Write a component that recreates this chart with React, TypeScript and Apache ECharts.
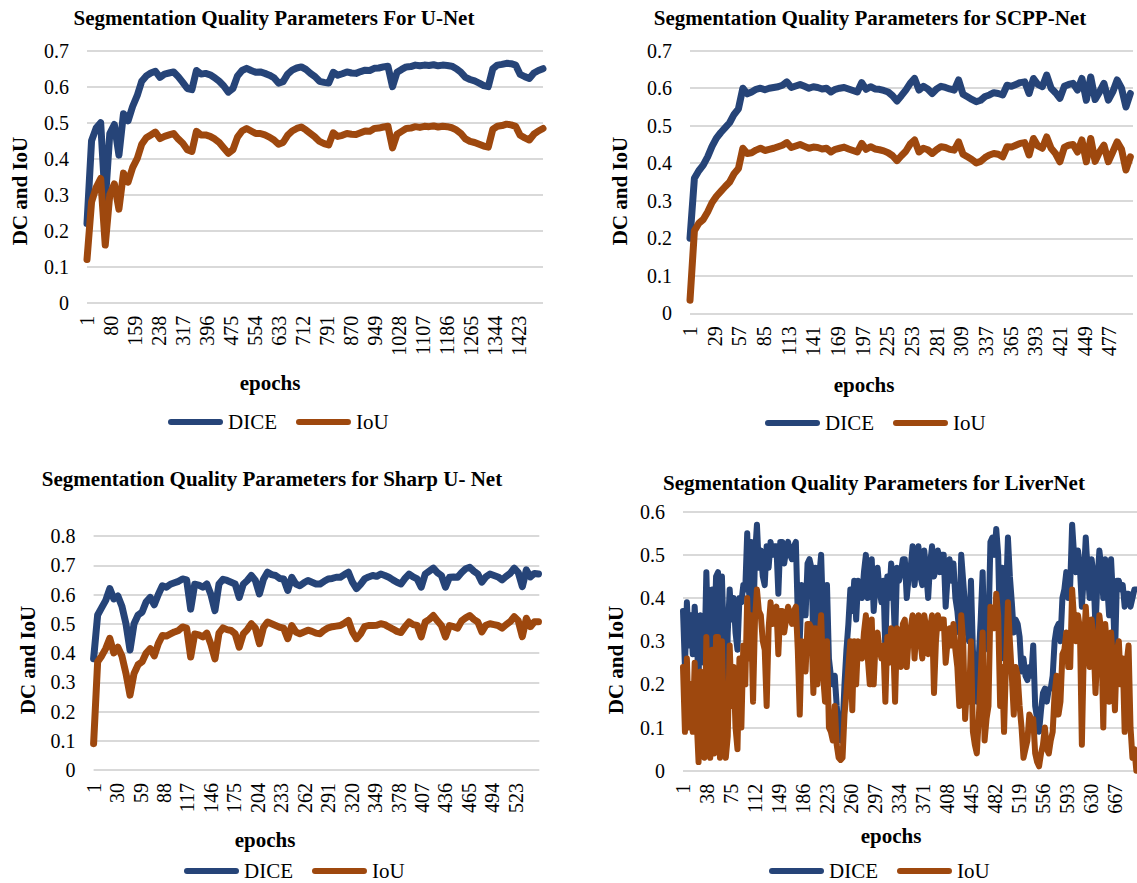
import React, { useEffect, useRef } from 'react';
import * as echarts from 'echarts';

const FONT = "'Liberation Serif', 'Times New Roman', Times, serif";
const DICE_COLOR = '#264478';
const IOU_COLOR = '#9E480E';

const SERIES_NAMES = ['DICE', 'IoU'];
const X_AXIS_NAME = 'epochs';
const Y_AXIS_NAME = 'DC and IoU';

// ---------- U-Net (sampled every 15 epochs) ----------
const UNET_TITLE = 'Segmentation Quality Parameters For U-Net';
const UNET_STEP = 15;
const UNET_DICE = [
  0.22, 0.45, 0.485, 0.50, 0.28, 0.47, 0.495, 0.41, 0.525, 0.505,
  0.545, 0.575, 0.615, 0.63, 0.638, 0.643, 0.626, 0.635, 0.638, 0.641,
  0.628, 0.612, 0.595, 0.592, 0.645, 0.635, 0.637, 0.633, 0.625, 0.615,
  0.602, 0.585, 0.595, 0.63, 0.645, 0.651, 0.645, 0.64, 0.641, 0.637,
  0.632, 0.625, 0.61, 0.614, 0.635, 0.646, 0.652, 0.655, 0.648, 0.637,
  0.628, 0.615, 0.612, 0.61, 0.64, 0.632, 0.636, 0.641, 0.638, 0.637,
  0.642, 0.646, 0.645, 0.651, 0.652, 0.655, 0.657, 0.60, 0.64, 0.648,
  0.655, 0.656, 0.66, 0.658, 0.66, 0.659, 0.661, 0.658, 0.66, 0.659,
  0.657, 0.65, 0.64, 0.626, 0.62, 0.616, 0.61, 0.603, 0.60, 0.65,
  0.66, 0.662, 0.665, 0.664, 0.66, 0.634, 0.628, 0.623, 0.638, 0.645,
  0.65,
];
const UNET_IOU = [
  0.12, 0.28, 0.32, 0.345, 0.16, 0.30, 0.33, 0.26, 0.36, 0.335,
  0.375, 0.40, 0.44, 0.458, 0.466, 0.474, 0.456, 0.462, 0.466, 0.47,
  0.455, 0.443, 0.425, 0.42, 0.476, 0.466, 0.466, 0.462, 0.455, 0.445,
  0.43, 0.415, 0.425, 0.46, 0.477, 0.484, 0.477, 0.47, 0.47, 0.466,
  0.46, 0.452, 0.44, 0.445, 0.465, 0.477, 0.484, 0.488, 0.48, 0.47,
  0.46, 0.448, 0.442, 0.438, 0.472, 0.462, 0.465, 0.47, 0.468, 0.467,
  0.472, 0.477, 0.476, 0.484, 0.485, 0.488, 0.49, 0.43, 0.468, 0.476,
  0.484, 0.485, 0.489, 0.487, 0.49, 0.489, 0.491, 0.488, 0.49, 0.489,
  0.486, 0.48, 0.47, 0.455, 0.448, 0.445, 0.44, 0.435, 0.432, 0.482,
  0.49, 0.492, 0.496, 0.494, 0.49, 0.465, 0.458, 0.452, 0.468, 0.477,
  0.484,
];

// ---------- SCPP-Net (sampled every 5 epochs) ----------
const SCPP_TITLE = 'Segmentation Quality Parameters for SCPP-Net';
const SCPP_STEP = 5;
const SCPP_DICE = [
  0.20, 0.36, 0.38, 0.395, 0.417, 0.445, 0.467, 0.482, 0.495, 0.508,
  0.53, 0.545, 0.60, 0.585, 0.59, 0.597, 0.60, 0.596, 0.60, 0.602,
  0.604, 0.608, 0.617, 0.602, 0.606, 0.61, 0.605, 0.60, 0.604, 0.602,
  0.598, 0.60, 0.59, 0.597, 0.60, 0.602, 0.598, 0.594, 0.59, 0.615,
  0.597, 0.604, 0.598, 0.597, 0.594, 0.59, 0.58, 0.566, 0.58, 0.595,
  0.613, 0.626, 0.595, 0.605, 0.598, 0.586, 0.598, 0.605, 0.602, 0.598,
  0.595, 0.622, 0.584, 0.577, 0.57, 0.564, 0.568, 0.578, 0.582, 0.588,
  0.586, 0.582, 0.608, 0.605, 0.61, 0.615, 0.617, 0.586, 0.626, 0.61,
  0.604, 0.635, 0.60, 0.588, 0.573, 0.605, 0.61, 0.613, 0.595, 0.626,
  0.568, 0.63, 0.57, 0.59, 0.613, 0.568, 0.59, 0.622, 0.60, 0.55,
  0.586,
];
const SCPP_IOU = [
  0.035, 0.22, 0.24, 0.25, 0.27, 0.295, 0.312, 0.325, 0.338, 0.35,
  0.372, 0.386, 0.44, 0.426, 0.428, 0.435, 0.44, 0.434, 0.437, 0.44,
  0.444, 0.448, 0.455, 0.442, 0.446, 0.45, 0.445, 0.44, 0.443, 0.442,
  0.438, 0.44, 0.43, 0.437, 0.44, 0.443, 0.438, 0.434, 0.43, 0.453,
  0.437, 0.444, 0.438, 0.436, 0.433, 0.428, 0.42, 0.407, 0.42, 0.432,
  0.451, 0.462, 0.43, 0.44, 0.436, 0.426, 0.436, 0.444, 0.442, 0.437,
  0.435, 0.457, 0.424, 0.417, 0.41, 0.401, 0.405, 0.415, 0.422, 0.426,
  0.424, 0.417, 0.444, 0.443, 0.448, 0.453, 0.455, 0.422, 0.466, 0.446,
  0.44, 0.47, 0.44, 0.426, 0.404, 0.442, 0.448, 0.45, 0.43, 0.462,
  0.404, 0.466, 0.405, 0.43, 0.448, 0.404, 0.43, 0.457, 0.437, 0.382,
  0.417,
];

// ---------- Sharp U-Net (sampled every 5 epochs) ----------
const SHARP_TITLE = 'Segmentation Quality Parameters for Sharp U- Net';
const SHARP_STEP = 5;
const SHARP_DICE = [
  0.38, 0.53, 0.555, 0.58, 0.62, 0.585, 0.595, 0.56, 0.50, 0.41,
  0.50, 0.53, 0.54, 0.575, 0.59, 0.565, 0.60, 0.63, 0.625, 0.635,
  0.64, 0.645, 0.653, 0.65, 0.55, 0.635, 0.632, 0.625, 0.636, 0.60,
  0.545, 0.636, 0.652, 0.648, 0.642, 0.636, 0.59, 0.635, 0.648, 0.665,
  0.648, 0.602, 0.652, 0.676, 0.668, 0.665, 0.655, 0.653, 0.614, 0.659,
  0.636, 0.63, 0.64, 0.648, 0.642, 0.636, 0.636, 0.645, 0.653, 0.655,
  0.659, 0.659, 0.668, 0.676, 0.642, 0.62, 0.635, 0.653, 0.66, 0.665,
  0.662, 0.67, 0.665, 0.659, 0.65, 0.642, 0.636, 0.655, 0.67, 0.66,
  0.653, 0.625, 0.67, 0.68, 0.69, 0.675, 0.665, 0.625, 0.659, 0.66,
  0.659, 0.675, 0.688, 0.693, 0.68, 0.67, 0.642, 0.66, 0.67, 0.665,
  0.66, 0.65, 0.662, 0.672, 0.69, 0.675, 0.627, 0.684, 0.66, 0.672,
  0.67,
];
const SHARP_IOU = [
  0.09, 0.37, 0.39, 0.415, 0.45, 0.40, 0.42, 0.39, 0.33, 0.256,
  0.33, 0.36, 0.37, 0.40, 0.415, 0.39, 0.432, 0.46, 0.458, 0.465,
  0.472, 0.477, 0.489, 0.485, 0.386, 0.465, 0.462, 0.455, 0.468, 0.43,
  0.38, 0.468, 0.486, 0.48, 0.477, 0.466, 0.42, 0.465, 0.48, 0.50,
  0.485, 0.432, 0.487, 0.506, 0.50, 0.494, 0.488, 0.485, 0.449, 0.494,
  0.472, 0.466, 0.472, 0.478, 0.474, 0.468, 0.466, 0.478, 0.486, 0.49,
  0.492, 0.494, 0.502, 0.511, 0.472, 0.449, 0.465, 0.49, 0.494, 0.494,
  0.495, 0.50, 0.497, 0.489, 0.482, 0.474, 0.47, 0.49, 0.506, 0.497,
  0.494, 0.455, 0.506, 0.515, 0.528, 0.51, 0.494, 0.455, 0.494, 0.49,
  0.485, 0.51, 0.52, 0.528, 0.515, 0.506, 0.472, 0.495, 0.50, 0.497,
  0.494, 0.485, 0.497, 0.507, 0.524, 0.51, 0.456, 0.519, 0.49, 0.507,
  0.507,
];

// ---------- LiverNet (sampled every 3 epochs) ----------
const LIVER_TITLE = 'Segmentation Quality Parameters for LiverNet';
const LIVER_STEP = 3;
const LIVER_DICE = [
  0.37, 0.24, 0.39, 0.29, 0.36, 0.27, 0.38, 0.30, 0.22, 0.36,
  0.33, 0.25, 0.46, 0.30, 0.20, 0.42, 0.30, 0.45, 0.46, 0.20,
  0.45, 0.30, 0.13, 0.32, 0.42, 0.35, 0.40, 0.32, 0.28, 0.40,
  0.39, 0.43, 0.42, 0.55, 0.41, 0.53, 0.30, 0.50, 0.57, 0.47,
  0.51, 0.45, 0.43, 0.52, 0.47, 0.53, 0.50, 0.52, 0.52, 0.41,
  0.53, 0.53, 0.48, 0.51, 0.53, 0.50, 0.49, 0.52, 0.53, 0.36,
  0.30, 0.43, 0.40, 0.36, 0.48, 0.49, 0.47, 0.30, 0.47, 0.30,
  0.45, 0.50, 0.35, 0.30, 0.43, 0.26, 0.22, 0.20, 0.22, 0.15,
  0.10, 0.07, 0.10, 0.20, 0.28, 0.34, 0.42, 0.37, 0.44, 0.35,
  0.44, 0.43, 0.40, 0.46, 0.50, 0.40, 0.45, 0.49, 0.37, 0.43,
  0.47, 0.42, 0.39, 0.44, 0.28, 0.45, 0.40, 0.48, 0.42, 0.30,
  0.47, 0.44, 0.46, 0.49, 0.49, 0.40, 0.45, 0.47, 0.52, 0.43,
  0.48, 0.52, 0.45, 0.43, 0.51, 0.46, 0.40, 0.48, 0.52, 0.45,
  0.47, 0.51, 0.46, 0.50, 0.50, 0.38, 0.45, 0.49, 0.44, 0.48,
  0.40, 0.37, 0.32, 0.50, 0.44, 0.38, 0.33, 0.30, 0.44, 0.28,
  0.20, 0.16, 0.26, 0.35, 0.46, 0.28, 0.30, 0.33, 0.53, 0.54,
  0.50, 0.56, 0.50, 0.30, 0.47, 0.26, 0.40, 0.54, 0.45, 0.39,
  0.32, 0.35, 0.34, 0.31, 0.23, 0.26, 0.22, 0.21, 0.24, 0.22,
  0.29, 0.15, 0.12, 0.09, 0.14, 0.18, 0.19, 0.16, 0.19, 0.19,
  0.22, 0.30, 0.33, 0.34, 0.30, 0.40, 0.42, 0.46, 0.40, 0.43,
  0.57, 0.50, 0.46, 0.51, 0.47, 0.38, 0.45, 0.54, 0.46, 0.40,
  0.49, 0.45, 0.33, 0.44, 0.51, 0.47, 0.40, 0.49, 0.43, 0.36,
  0.49, 0.40, 0.26, 0.44, 0.44, 0.42, 0.43, 0.38, 0.41, 0.41,
  0.38, 0.40, 0.42, 0.42,
];
const LIVER_IOU = [
  0.24, 0.09, 0.26, 0.10, 0.20, 0.09, 0.25, 0.12, 0.02, 0.23,
  0.08, 0.03, 0.31, 0.12, 0.03, 0.28, 0.04, 0.31, 0.31, 0.03,
  0.30, 0.12, 0.03, 0.08, 0.29, 0.15, 0.24, 0.10, 0.05, 0.26,
  0.10, 0.29, 0.20, 0.40, 0.26, 0.36, 0.16, 0.35, 0.42, 0.37,
  0.36, 0.30, 0.28, 0.15, 0.33, 0.39, 0.34, 0.37, 0.38, 0.27,
  0.37, 0.37, 0.32, 0.35, 0.38, 0.36, 0.34, 0.37, 0.38, 0.28,
  0.13, 0.30, 0.28, 0.23, 0.34, 0.34, 0.33, 0.18, 0.33, 0.20,
  0.30, 0.36, 0.22, 0.16, 0.30, 0.10, 0.09, 0.07, 0.15, 0.06,
  0.03, 0.025, 0.03, 0.13, 0.18, 0.24, 0.30, 0.14, 0.30, 0.20,
  0.30, 0.28, 0.26, 0.32, 0.36, 0.26, 0.20, 0.35, 0.20, 0.30,
  0.32, 0.28, 0.26, 0.29, 0.16, 0.31, 0.25, 0.33, 0.30, 0.16,
  0.33, 0.29, 0.24, 0.34, 0.35, 0.24, 0.31, 0.33, 0.36, 0.26,
  0.33, 0.36, 0.30, 0.26, 0.36, 0.33, 0.27, 0.33, 0.36, 0.18,
  0.30, 0.36, 0.33, 0.35, 0.35, 0.25, 0.30, 0.33, 0.29, 0.34,
  0.28, 0.24, 0.15, 0.36, 0.30, 0.12, 0.20, 0.16, 0.30, 0.09,
  0.06, 0.04, 0.12, 0.22, 0.32, 0.07, 0.12, 0.15, 0.38, 0.37,
  0.33, 0.41, 0.36, 0.15, 0.24, 0.09, 0.25, 0.39, 0.30, 0.22,
  0.13, 0.24, 0.22, 0.15, 0.10, 0.03, 0.05, 0.07, 0.13, 0.12,
  0.12, 0.04, 0.02, 0.01, 0.04, 0.06, 0.10, 0.05, 0.04, 0.07,
  0.09, 0.18, 0.22, 0.13, 0.16, 0.27, 0.28, 0.32, 0.24, 0.24,
  0.42, 0.35, 0.30, 0.36, 0.33, 0.06, 0.28, 0.38, 0.30, 0.24,
  0.35, 0.30, 0.18, 0.28, 0.36, 0.32, 0.10, 0.34, 0.28, 0.16,
  0.32, 0.25, 0.14, 0.28, 0.30, 0.20, 0.26, 0.09, 0.25, 0.29,
  0.10, 0.03, 0.05, 0.0,
];

const stepPairs = (vals: number[], step: number) => vals.map((v, i) => [i * step, v]);

const PANELS = [
  {
    title: UNET_TITLE,
    dice: stepPairs(UNET_DICE, UNET_STEP),
    iou: stepPairs(UNET_IOU, UNET_STEP),
    xMax: 1500, xInterval: 79, yMax: 0.7, lineWidth: 7,
    grid: { left: 87, top: 50.7, width: 456, height: 252 },
    titleAt: [274, 18], xNameAt: [270, 383], yNameAt: [19.6, 191], legendAt: [168, 411],
  },
  {
    title: SCPP_TITLE,
    dice: stepPairs(SCPP_DICE, SCPP_STEP),
    iou: stepPairs(SCPP_IOU, SCPP_STEP),
    xMax: 503, xInterval: 28, yMax: 0.7, lineWidth: 7,
    grid: { left: 690, top: 50.7, width: 443, height: 262.6 },
    titleAt: [870, 18], xNameAt: [864, 385], yNameAt: [619.7, 191], legendAt: [765, 412],
  },
  {
    title: SHARP_TITLE,
    dice: stepPairs(SHARP_DICE, SHARP_STEP),
    iou: stepPairs(SHARP_IOU, SHARP_STEP),
    xMax: 551, xInterval: 29, yMax: 0.8, lineWidth: 7,
    grid: { left: 93.6, top: 536, width: 445.7, height: 234 },
    titleAt: [272, 479], xNameAt: [265, 840], yNameAt: [27.7, 660], legendAt: [184, 860],
  },
  {
    title: LIVER_TITLE,
    dice: stepPairs(LIVER_DICE, LIVER_STEP),
    iou: stepPairs(LIVER_IOU, LIVER_STEP),
    xMax: 700, xInterval: 37, yMax: 0.6, lineWidth: 6,
    grid: { left: 683, top: 511.7, width: 457, height: 259 },
    titleAt: [874, 483], xNameAt: [891, 836], yNameAt: [616, 660], legendAt: [769, 860],
  },
];

const CAPSULE = 'path://M3 0H52A3 3 0 0 1 52 6H3A3 3 0 0 1 3 0Z';

function buildOption() {
  const graphic: any[] = [];
  PANELS.forEach((p) => {
    graphic.push({
      type: 'text', x: p.titleAt[0], y: p.titleAt[1],
      style: { text: p.title, fontSize: 21, fontWeight: 'bold', fontFamily: FONT, fill: '#000', align: 'center', verticalAlign: 'middle' },
    });
    graphic.push({
      type: 'text', x: p.xNameAt[0], y: p.xNameAt[1],
      style: { text: X_AXIS_NAME, fontSize: 21, fontWeight: 'bold', fontFamily: FONT, fill: '#000', align: 'center', verticalAlign: 'middle' },
    });
    graphic.push({
      type: 'text', x: p.yNameAt[0], y: p.yNameAt[1], rotation: Math.PI / 2,
      style: { text: Y_AXIS_NAME, fontSize: 21, fontWeight: 'bold', fontFamily: FONT, fill: '#000', align: 'center', verticalAlign: 'middle' },
    });
  });

  return {
    animation: false,
    backgroundColor: '#ffffff',
    grid: PANELS.map((p) => ({ ...p.grid, containLabel: false })),
    xAxis: PANELS.map((p, i) => ({
      type: 'value', gridIndex: i, min: 0, max: p.xMax, interval: p.xInterval,
      axisLine: { show: false }, axisTick: { show: false }, splitLine: { show: false },
      axisLabel: {
        rotate: 90, margin: 13, fontSize: 20, fontFamily: FONT, color: '#000',
        showMaxLabel: false,
        formatter: (v: number) => String(Math.round(v) + 1),
      },
    })),
    yAxis: PANELS.map((p, i) => ({
      type: 'value', gridIndex: i, min: 0, max: p.yMax, interval: 0.1,
      axisLine: { show: false }, axisTick: { show: false },
      splitLine: { show: true, lineStyle: { color: '#d9d9d9', width: 2 } },
      axisLabel: {
        margin: 18, fontSize: 20, fontFamily: FONT, color: '#000',
        formatter: (v: number) => (Math.abs(v) < 1e-9 ? '0' : v.toFixed(1)),
      },
    })),
    legend: PANELS.map((p) => ({
      left: p.legendAt[0], top: p.legendAt[1], padding: 0, orient: 'horizontal',
      itemGap: 19, itemWidth: 55, itemHeight: 6, icon: CAPSULE,
      selectedMode: false,
      itemStyle: { borderWidth: 0 },
      textStyle: { fontSize: 21, fontFamily: FONT, color: '#000', lineHeight: 22 },
      data: SERIES_NAMES,
    })),
    series: PANELS.flatMap((p, i) => [
      {
        type: 'line', name: SERIES_NAMES[0], xAxisIndex: i, yAxisIndex: i, data: p.dice,
        showSymbol: false, symbol: 'none', clip: false,
        lineStyle: { width: p.lineWidth, color: DICE_COLOR, cap: 'round', join: 'round' },
        itemStyle: { color: DICE_COLOR },
      },
      {
        type: 'line', name: SERIES_NAMES[1], xAxisIndex: i, yAxisIndex: i, data: p.iou,
        showSymbol: false, symbol: 'none', clip: false,
        lineStyle: { width: p.lineWidth, color: IOU_COLOR, cap: 'round', join: 'round' },
        itemStyle: { color: IOU_COLOR },
      },
    ]),
    graphic,
  };
}

export default function App() {
  const ref = useRef<HTMLDivElement>(null);
  useEffect(() => {
    if (!ref.current) return;
    const chart = echarts.init(ref.current, null, { renderer: 'svg' });
    chart.setOption(buildOption() as any);
    return () => chart.dispose();
  }, []);
  return (
    <div
      ref={ref}
      style={{ position: 'fixed', left: 0, top: 0, width: 1137, height: 883, background: '#fff' }}
    />
  );
}
